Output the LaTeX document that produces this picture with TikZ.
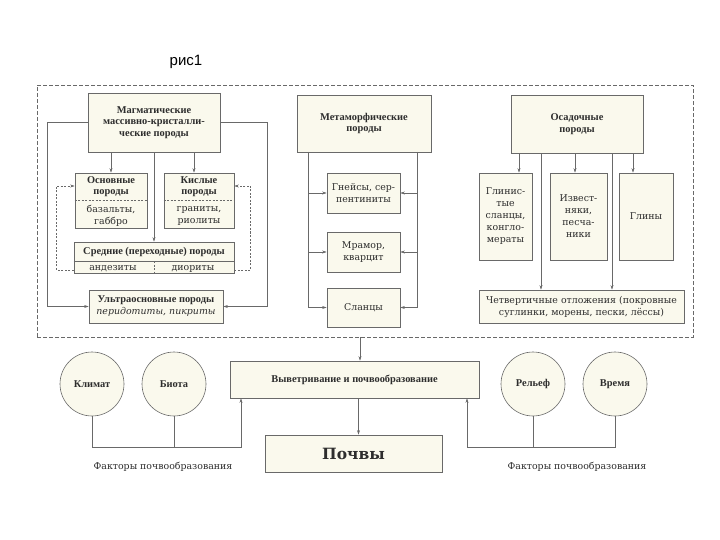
\documentclass[tikz,border=0pt]{standalone}
\usepackage{fontspec}
\setmainfont{DejaVu Serif}
\newfontfamily\headfont{Liberation Serif}
\newfontfamily\capfont{Liberation Sans}
\usetikzlibrary{arrows.meta}
\definecolor{boxfill}{RGB}{250,249,237}
\definecolor{linegray}{RGB}{105,105,105}
\definecolor{textgray}{RGB}{45,45,45}
\begin{document}
\begin{tikzpicture}[x=1pt,y=-1pt]
        \tikzset{
          box/.style={draw=linegray,fill=boxfill,line width=0.6pt,inner sep=0pt,text=textgray,align=center,font=\fontsize{9.4}{12}\selectfont},
          head/.style={box,font=\headfont\bfseries\fontsize{10.4}{11.5}\selectfont},
          lbl/.style={text=textgray,align=center,inner sep=0pt,font=\fontsize{9.4}{12}\selectfont},
          headlbl/.style={lbl,font=\headfont\bfseries\fontsize{10.4}{11.5}\selectfont},
          factor/.style={circle,draw=linegray,fill=boxfill,line width=0.6pt,minimum size=64pt,inner sep=0pt,text=textgray,font=\headfont\bfseries\fontsize{10.4}{11.5}\selectfont},
          line/.style={draw=linegray,line width=0.5pt},
          arr/.style={line,-{Stealth[length=4.5pt,width=3pt]}},
          dline/.style={arr,dash pattern=on 2pt off 1.5pt},
        }
        \useasboundingbox (0,0) rectangle (720,540);
        \node[text=black,font=\capfont\fontsize{15}{15}\selectfont] (title) at (186,62) {рис1};
        %FRAME
        \node[draw=linegray,line width=0.5pt,dash pattern=on 4pt off 2pt,minimum width=656pt,minimum height=252pt] (rocks) at (365,211) {};
        %MAGMATIC
        \node[head,minimum width=132pt,minimum height=59pt] (magm) at (154,122.5) {Магматические\\массивно-кристалли-\\ческие породы};
        \node[box,minimum width=72pt,minimum height=55pt] (osn) at (111,200.5) {};
        \node[headlbl] (osnh) at ([yshift=14pt]osn.center) {Основные\\породы};
        \node[lbl] (osnl) at ([yshift=-15.5pt]osn.center) {базальты,\\габбро};
        \draw[line,dash pattern=on 2pt off 1.5pt] (osn.west) -- (osn.east);
        \node[box,minimum width=70pt,minimum height=55pt] (kisl) at (199,200.5) {};
        \node[headlbl] (kislh) at ([yshift=14pt]kisl.center) {Кислые\\породы};
        \node[lbl] (kisll) at ([yshift=-15.5pt]kisl.center) {граниты,\\риолиты};
        \draw[line,dash pattern=on 2pt off 1.5pt] (kisl.west) -- (kisl.east);
        \node[box,minimum width=160pt,minimum height=31pt] (sred) at (154,257.5) {};
        \node[headlbl] (sredh) at ([yshift=6pt]sred.center) {Средние (переходные) породы};
        \draw[line] ([yshift=-3.5pt]sred.west) -- ([yshift=-3.5pt]sred.east);
        \draw[line,dash pattern=on 2pt off 1.5pt] ([yshift=-3.5pt]sred.center) -- (sred.south);
        \node[lbl] (andez) at (113,269) {андезиты};
        \node[lbl] (dior) at (193,269) {диориты};
        \node[box,minimum width=134pt,minimum height=33pt] (ultra) at (156,306.5) {{\headfont\bfseries\fontsize{10.4}{11.5}\selectfont Ультраосновные породы}\\{\itshape перидотиты, пикриты}};
        \draw[arr] (osn.north |- magm.south) -- (osn.north);
        \draw[arr] ([xshift=-5pt]kisl.north |- magm.south) -- ([xshift=-5pt]kisl.north);
        \draw[arr] (magm.south) -- (sred.north);
        \draw[arr] (magm.west) -| ([xshift=-41pt]ultra.west) -- (ultra.west);
        \draw[arr] (magm.east) -| ([xshift=44pt]ultra.east) -- (ultra.east);
        \draw[dline] ([yshift=-12.5pt]sred.west) -| ([xshift=-18pt,yshift=14.5pt]osn.west) -- ([yshift=14.5pt]osn.west);
        \draw[dline] ([yshift=-12.5pt]sred.east) -| ([xshift=16pt,yshift=14.5pt]kisl.east) -- ([yshift=14.5pt]kisl.east);
        %METAMORPHIC
        \node[head,minimum width=134pt,minimum height=57pt] (metam) at (364,123.5) {Метаморфические\\породы};
        \node[box,minimum width=73pt,minimum height=40pt] (gnei) at (363.5,193) {Гнейсы, сер-\\пентиниты};
        \node[box,minimum width=73pt,minimum height=40pt] (mram) at (363.5,252) {Мрамор,\\кварцит};
        \node[box,minimum width=73pt,minimum height=39pt] (slan) at (363.5,307.5) {Сланцы};
        \coordinate (ml) at (308,152);
        \coordinate (mr) at (417,152);
        \draw[arr] (ml) |- (slan.west);
        \draw[arr] (ml |- gnei.west) -- (gnei.west);
        \draw[arr] (ml |- mram.west) -- (mram.west);
        \draw[arr] (mr) |- (slan.east);
        \draw[arr] (mr |- gnei.east) -- (gnei.east);
        \draw[arr] (mr |- mram.east) -- (mram.east);
        %SEDIMENTARY
        \node[head,minimum width=132pt,minimum height=58pt] (osad) at (577,124) {Осадочные\\породы};
        \node[box,minimum width=53pt,minimum height=87pt] (glin) at (505.5,216.5) {Глинис-\\тые\\сланцы,\\конгло-\\мераты};
        \node[box,minimum width=57pt,minimum height=87pt] (izv) at (578.5,216.5) {Извест-\\няки,\\песча-\\ники};
        \node[box,minimum width=54pt,minimum height=87pt] (glina) at (646,216.5) {Глины};
        \node[box,minimum width=205pt,minimum height=33pt] (chetv) at (581.5,306.5) {Четвертичные отложения (покровные\\суглинки, морены, пески, лёссы)};
        \draw[arr] ([xshift=13.5pt]glin.north |- osad.south) -- ([xshift=13.5pt]glin.north);
        \draw[arr] ([xshift=-3.5pt]izv.north |- osad.south) -- ([xshift=-3.5pt]izv.north);
        \draw[arr] ([xshift=-13pt]glina.north |- osad.south) -- ([xshift=-13pt]glina.north);
        \draw[arr] ([xshift=-40.5pt]chetv.north |- osad.south) -- ([xshift=-40.5pt]chetv.north);
        \draw[arr] ([xshift=30.5pt]chetv.north |- osad.south) -- ([xshift=30.5pt]chetv.north);
        %SOILS
        \node[head,minimum width=249pt,minimum height=37pt] (vyv) at (354.5,379.5) {Выветривание и почвообразование};
        \node[head,minimum width=177pt,minimum height=37pt,font=\bfseries\fontsize{15.5}{15.5}\selectfont] (pochv) at (353.5,453.5) {Почвы};
        \draw[arr] ([xshift=5.5pt]vyv.north |- rocks.south) -- ([xshift=5.5pt]vyv.north);
        \draw[arr] ([xshift=4pt]vyv.south) -- ([xshift=4pt]vyv.south |- pochv.north);
        %FACTORS
        \node[factor] (klim) at (92,384) {Климат};
        \node[factor] (biota) at (174,384) {Биота};
        \node[factor] (relief) at (533,384) {Рельеф};
        \node[factor] (vrem) at (615,384) {Время};
        \coordinate (lj) at (241,447);
        \coordinate (rj) at (467,447);
        \draw[arr] (klim.south) |- (lj) -- (lj |- vyv.south);
        \draw[line] (biota.south) -- (biota.south |- lj);
        \draw[arr] (vrem.south) |- (rj) -- (rj |- vyv.south);
        \draw[line] (relief.south) -- (relief.south |- rj);
        \node[lbl] (factl) at (163,467) {Факторы почвообразования};
        \node[lbl] (factr) at (577,467) {Факторы почвообразования};
    \end{tikzpicture}
\end{document}
